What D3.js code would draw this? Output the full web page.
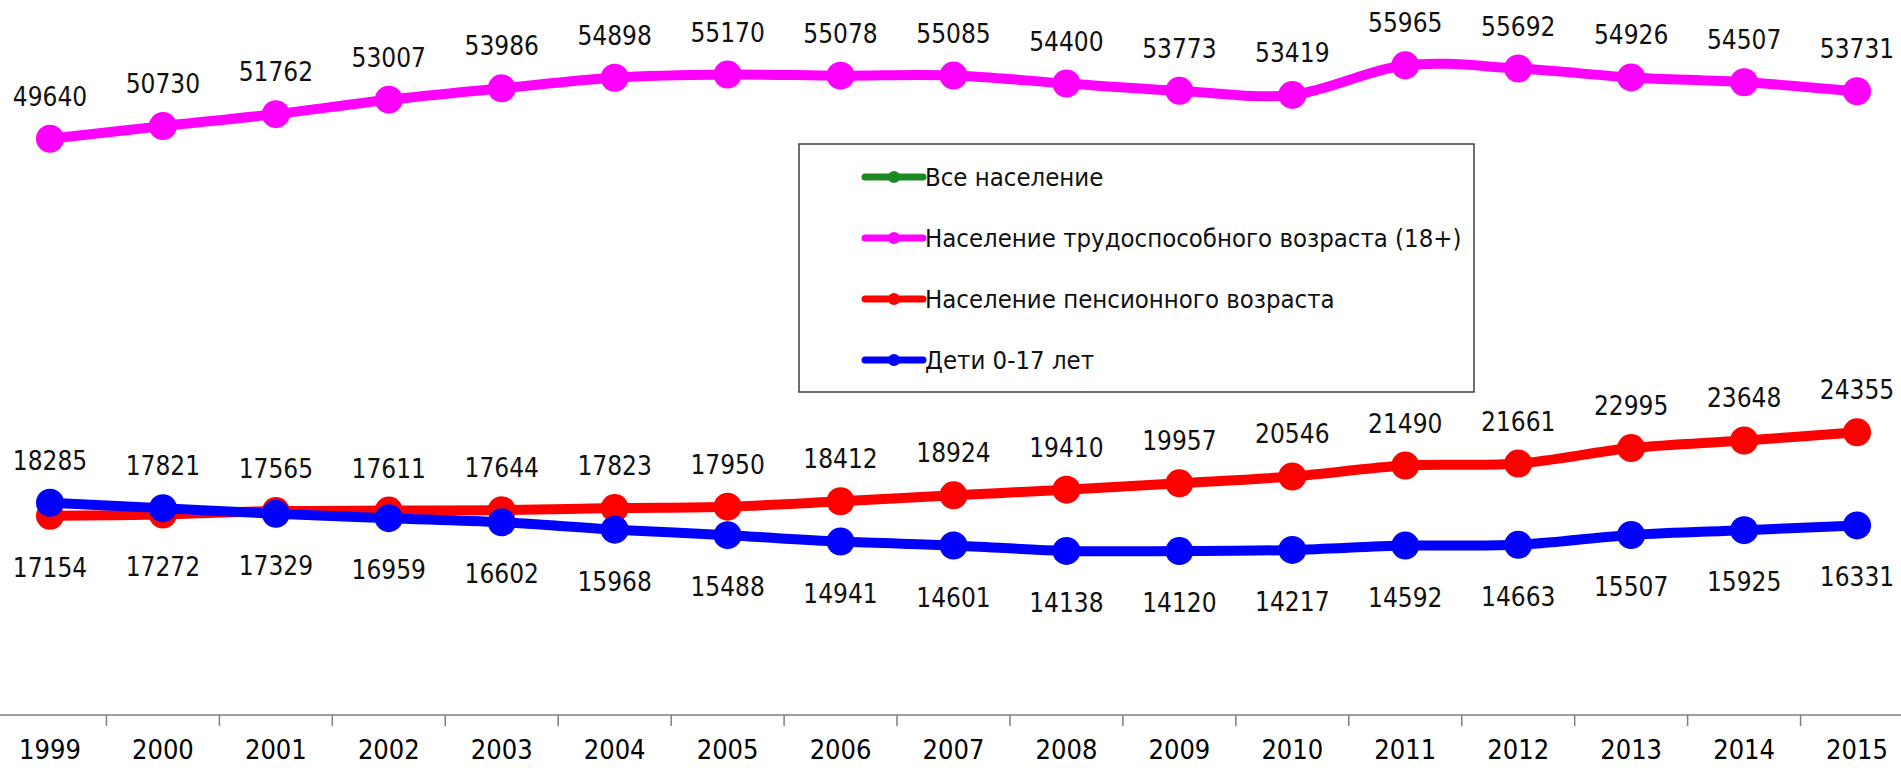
<!DOCTYPE html>
<html>
<head>
<meta charset="utf-8">
<script src="https://cdnjs.cloudflare.com/ajax/libs/d3/7.8.5/d3.min.js"></script>
<style>
  body { margin: 0; background: #fff; }
  text { font-family: "DejaVu Sans Condensed", "DejaVu Sans", Verdana, sans-serif; font-stretch: condensed; }
</style>
</head>
<body>
<div id="chart"></div>
<script>
var years = ['1999','2000','2001','2002','2003','2004','2005','2006','2007','2008','2009','2010','2011','2012','2013','2014','2015'];

var working_age = [49640, 50730, 51762, 53007, 53986, 54898, 55170, 55078, 55085, 54400, 53773, 53419, 55965, 55692, 54926, 54507, 53731];
var pension_age = [17154, 17272, 17565, 17611, 17644, 17823, 17950, 18412, 18924, 19410, 19957, 20546, 21490, 21661, 22995, 23648, 24355];
var children = [18285, 17821, 17329, 16959, 16602, 15968, 15488, 14941, 14601, 14138, 14120, 14217, 14592, 14663, 15507, 15925, 16331];

var legend_names = ['Все население', 'Население трудоспособного возраста (18+)', 'Население пенсионного возраста', 'Дети 0-17 лет'];
var legend_colors = ['#1b8a23', '#ff00ff', '#ff0000', '#0000ff'];

var width = 1901, height = 768;
var font = '"DejaVu Sans Condensed", "DejaVu Sans", Verdana, sans-serif';

var svg = d3.select('#chart').append('svg')
  .attr('width', width)
  .attr('height', height);

var x = d3.scaleBand().domain(years).range([-6.5, 1913.5]);
var y = d3.scaleLinear().domain([0, 60000]).range([715, 18.5]);
var cx = function(i){ return x(years[i]) + x.bandwidth()/2; };

// x axis
var axis_g = svg.append('g')
  .attr('transform', 'translate(0,715)')
  .call(d3.axisBottom(x).tickSize(0).tickSizeOuter(0));
axis_g.select('.domain').remove();
axis_g.selectAll('text')
  .attr('y', 44)
  .attr('dy', 0)
  .attr('fill', '#000')
  .style('font-family', font)
  .style('font-size', '27px');

axis_g.append('line')
  .attr('x1', 0).attr('x2', width)
  .attr('y1', 0).attr('y2', 0)
  .attr('stroke', '#7f7f7f')
  .attr('stroke-width', 1.5);

axis_g.selectAll('.sep')
  .data(years.slice(1))
  .enter().append('line')
  .attr('class', 'sep')
  .attr('x1', function(d){ return x(d); })
  .attr('x2', function(d){ return x(d); })
  .attr('y1', 0).attr('y2', 11)
  .attr('stroke', '#7f7f7f')
  .attr('stroke-width', 1.5);

// series
var series = [
  { values: working_age, color: legend_colors[1] },
  { values: pension_age, color: legend_colors[2] },
  { values: children, color: legend_colors[3] }
];

var line = d3.line()
  .x(function(d, i){ return cx(i); })
  .y(function(d){ return y(d); })
  .curve(d3.curveCardinal.tension(0));

series.forEach(function(s){
  var g = svg.append('g');
  g.append('path')
    .attr('d', line(s.values))
    .attr('fill', 'none')
    .attr('stroke', s.color)
    .attr('stroke-width', 10)
    .attr('stroke-linejoin', 'round');
  g.selectAll('circle')
    .data(s.values)
    .enter().append('circle')
    .attr('cx', function(d, i){ return cx(i); })
    .attr('cy', function(d){ return y(d); })
    .attr('r', 14)
    .attr('fill', s.color);
});

// data labels
var labels_g = svg.append('g')
  .attr('font-size', '26px')
  .attr('fill', '#111')
  .attr('text-anchor', 'middle');

working_age.forEach(function(v, i){
  labels_g.append('text')
    .attr('x', cx(i))
    .attr('y', y(v) - 33)
    .text(v);
});

// the higher of the two lower series gets its label above, the other below
years.forEach(function(yr, i){
  var hi = Math.max(pension_age[i], children[i]);
  var lo = Math.min(pension_age[i], children[i]);
  labels_g.append('text')
    .attr('x', cx(i))
    .attr('y', y(hi) - 33)
    .text(hi);
  labels_g.append('text')
    .attr('x', cx(i))
    .attr('y', y(lo) + 61)
    .text(lo);
});

// legend
var legend = svg.append('g').attr('transform', 'translate(799,144)');
legend.append('rect')
  .attr('width', 675)
  .attr('height', 248)
  .attr('fill', '#fff')
  .attr('stroke', '#404040')
  .attr('stroke-width', 1.5);

var item = legend.selectAll('.item')
  .data(legend_names)
  .enter().append('g')
  .attr('class', 'item')
  .attr('transform', function(d, i){ return 'translate(0,' + (33 + i*61) + ')'; });

item.append('line')
  .attr('x1', 66).attr('x2', 124)
  .attr('stroke', function(d, i){ return legend_colors[i]; })
  .attr('stroke-width', 7)
  .attr('stroke-linecap', 'round');
item.append('circle')
  .attr('cx', 95)
  .attr('r', 6)
  .attr('fill', function(d, i){ return legend_colors[i]; });
item.append('text')
  .attr('x', 126)
  .attr('dy', '0.35em')
  .attr('font-size', '25.5px')
  .attr('fill', '#111')
  .text(function(d){ return d; });
</script>
</body>
</html>
